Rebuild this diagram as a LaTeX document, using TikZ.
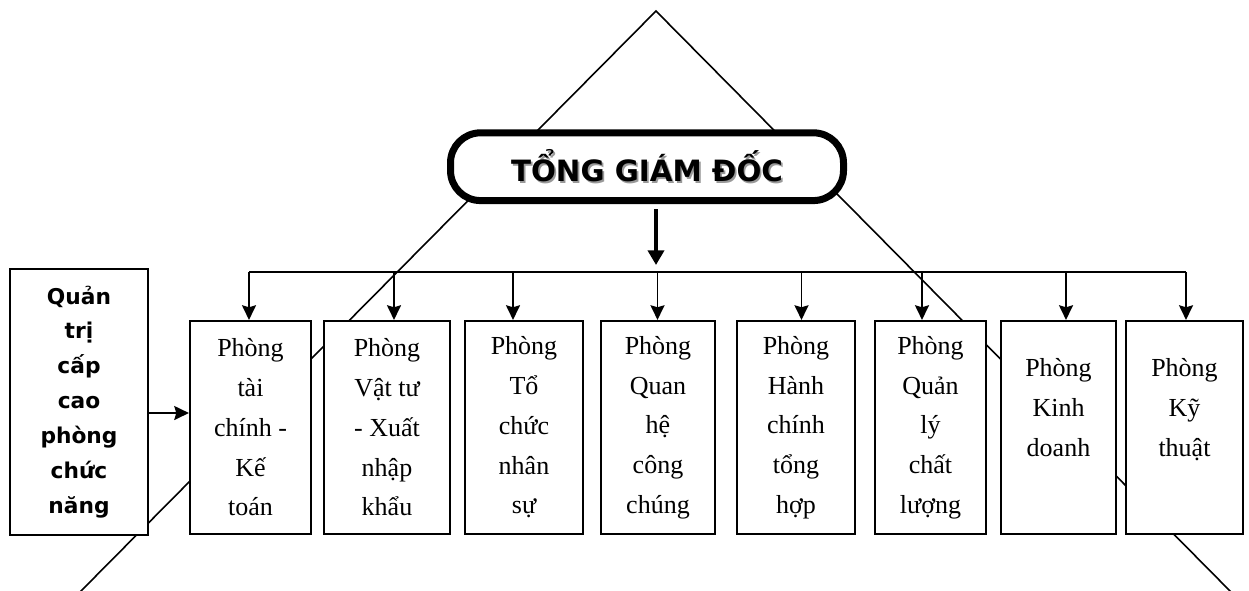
\documentclass[tikz,border=0pt]{standalone}
\usepackage{fontspec}
\setmainfont{Liberation Serif}
\newfontfamily\dvs{DejaVu Sans}
\usetikzlibrary{arrows.meta}
\begin{document}
\begin{tikzpicture}[x=0.75pt,y=-0.75pt,
  tri/.style={line width=1.2pt},
  dept/.style={draw,line width=1.6pt,fill=white,align=center,inner sep=0pt,
    minimum height=159.75pt,font=\fontsize{19.5}{29.8}\selectfont},
  wd/.style={minimum width=#1*0.75pt},
  mgr/.style={draw,line width=1.6pt,fill=white,align=center,inner sep=0pt,
    minimum width=103.5pt,minimum height=199.5pt,
    font=\dvs\bfseries\fontsize{16.3}{26.2}\selectfont},
  boss/.style={draw,line width=5.25pt,fill=white,rounded corners=22.5pt,
    minimum width=294.75pt,minimum height=50.8pt,inner sep=0pt,
    font=\dvs\bfseries\fontsize{22}{26}\selectfont},
  arr/.style={line width=1.3pt,-{Stealth[length=11pt,width=10.5pt,inset=1.5pt]}},
  bus/.style={line width=1.3pt},
  big/.style={line width=3pt,-{Triangle[length=11pt,width=12pt]}}]
\useasboundingbox (0,0) rectangle (1249,590);
% triangle
\coordinate (apex) at (656,11);
\coordinate (tl) at (80,592);
\coordinate (tr) at (1231,592);
\draw[tri] (tl) -- (apex) -- (tr);
% top node
\node[boss] (tgd) at (647,166.7) {\rlap{\kern1.3pt\raisebox{-1.3pt}{\color{black!40}TỔNG GIÁM ĐỐC}}TỔNG GIÁM ĐỐC};
% departments
\node[dept,wd=121] (b1) at (250.5,427.5) {Phòng\\tài\\chính -\\Kế\\toán};
\node[dept,wd=126] (b2) at (387,427.5) {Phòng\\Vật tư\\- Xuất\\nhập\\khẩu};
\node[dept,wd=118] (b3) at (524,427.5) {Phòng\\Tổ\\chức\\nhân\\sự};
\node[dept,wd=114] (b4) at (658,427.5) {Phòng\\Quan\\hệ\\công\\chúng};
\node[dept,wd=118] (b5) at (796,427.5) {Phòng\\Hành\\chính\\tổng\\hợp};
\node[dept,wd=111] (b6) at (930.5,427.5) {Phòng\\Quản\\lý\\chất\\lượng};
\node[dept,wd=115] (b7) at (1058.5,427.5) {Phòng\\Kinh\\doanh\\\mbox{}};
\node[dept,wd=117] (b8) at (1184.5,427.5) {Phòng\\Kỹ\\thuật\\\mbox{}};
% management box
\node[mgr] (qt) at (79,402) {Quản\\trị\\cấp\\cao\\phòng\\chức\\năng};
% main arrow
\coordinate (busc) at (656,265);
\draw[big,shorten <=4pt] (busc |- tgd.south) -- (busc);
% bus
\coordinate (d1) at (249,272.3);
\coordinate (d2) at (394,272.3);
\coordinate (d3) at (513,272.3);
\coordinate (d4) at (657.5,272.3);
\coordinate (d5) at (801.5,272.3);
\coordinate (d6) at (922,272.3);
\coordinate (d7) at (1066,272.3);
\coordinate (d8) at (1186,272.3);
\draw[bus] (d1) -- (d8);
\foreach \i in {1,...,8}{
  \draw[arr] (d\i) -- (d\i |- b\i.north);
}
% side arrow
\coordinate (h) at (148,413);
\draw[arr] (qt.east |- h) -- (b1.west |- h);
\end{tikzpicture}
\end{document}
